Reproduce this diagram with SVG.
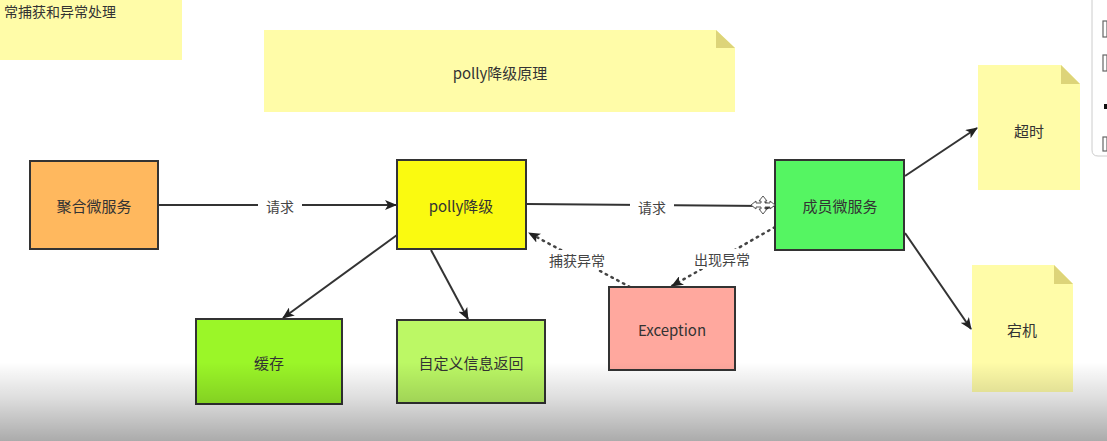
<svg xmlns="http://www.w3.org/2000/svg" width="1107" height="441" viewBox="0 0 1107 441">
<defs>
<style>
.t{font-family:"Noto Sans CJK SC","Noto Sans",sans-serif;font-size:15px;fill:#333;text-anchor:middle;dominant-baseline:central}
.lbl{font-family:"Noto Sans CJK SC","Noto Sans",sans-serif;font-size:14px;fill:#444;text-anchor:middle;dominant-baseline:central}
.box{stroke:#333;stroke-width:2}
.note{fill:#FFFCA8}
.fold{fill:#DDD479}
.c{stroke:#333;stroke-width:2;fill:none}
.d{stroke:#444;stroke-width:2.5;fill:none;stroke-dasharray:1.5 5;stroke-linecap:round}
</style>
<marker id="a" viewBox="0 0 12 10" refX="11" refY="5" markerWidth="12" markerHeight="10" markerUnits="userSpaceOnUse" orient="auto">
<path d="M0,0 L12,5 L0,10 L3,5 Z" fill="#222"/>
</marker>
<linearGradient id="g" x1="0" y1="0" x2="0" y2="1">
<stop offset="0" stop-color="#000" stop-opacity="0"/>
<stop offset="0.45" stop-color="#000" stop-opacity="0.13"/>
<stop offset="1" stop-color="#000" stop-opacity="0.33"/>
</linearGradient>
</defs>
<rect width="1107" height="441" fill="#ffffff"/>

<g id="note-topleft">
<rect x="0" y="0" width="182" height="60" class="note"/>
<text x="4" y="11" class="t" style="font-size:14px;text-anchor:start">常捕获和异常处理</text>
</g>

<g id="note-title">
<path d="M264,30 H716 L735,48 V112 H264 Z" class="note"/>
<path d="M716,30 L735,48 H716 Z" class="fold"/>
<text x="500" y="72" class="t">polly降级原理</text>
</g>

<g id="connectors">
<line x1="159" y1="205" x2="396" y2="205" class="c" marker-end="url(#a)"/>
<line x1="527" y1="204" x2="774" y2="206" class="c" marker-end="url(#a)"/>
<line x1="397" y1="235" x2="283" y2="318" class="c" marker-end="url(#a)"/>
<line x1="431" y1="250" x2="468" y2="319" class="c" marker-end="url(#a)"/>
<line x1="905" y1="176" x2="977" y2="128" class="c" marker-end="url(#a)"/>
<line x1="905" y1="233" x2="971" y2="329" class="c" marker-end="url(#a)"/>
<line x1="630" y1="287" x2="529" y2="233" class="d" marker-end="url(#a)"/>
<line x1="775" y1="227" x2="672" y2="286" class="d" marker-end="url(#a)"/>
<rect x="258" y="197" width="44" height="18" fill="#fff"/>
<text x="280" y="206" class="lbl">请求</text>
<rect x="630" y="197" width="44" height="18" fill="#fff"/>
<text x="652" y="207" class="lbl">请求</text>
<rect x="545" y="250" width="64" height="20" fill="#fff"/>
<text x="577" y="260" class="lbl">捕获异常</text>
<rect x="690" y="249" width="64" height="20" fill="#fff"/>
<text x="722" y="259" class="lbl">出现异常</text>
</g>

<g id="node-jh">
<rect x="30" y="161" width="128" height="88" class="box" fill="#FFB85E"/>
<text x="94" y="205" class="t">聚合微服务</text>
</g>
<g id="node-polly">
<rect x="397" y="160" width="129" height="89" class="box" fill="#FAFA10"/>
<text x="461" y="205" class="t">polly降级</text>
</g>
<g id="node-member">
<rect x="775" y="160" width="129" height="90" class="box" fill="#55F562"/>
<text x="840" y="205" class="t">成员微服务</text>
</g>
<g id="node-cache">
<rect x="196" y="319" width="146" height="85" class="box" fill="#9BF628"/>
<text x="269" y="362" class="t">缓存</text>
</g>
<g id="node-custom">
<rect x="397" y="320" width="148" height="83" class="box" fill="#BCF865"/>
<text x="471" y="362" class="t">自定义信息返回</text>
</g>
<g id="node-exception">
<rect x="609" y="287" width="126" height="83" class="box" fill="#FFA89E"/>
<text x="672" y="329" class="t">Exception</text>
</g>
<g id="note-timeout">
<path d="M978,65 H1061 L1080,84 V190 H978 Z" class="note"/>
<path d="M1061,65 L1080,84 H1061 Z" class="fold"/>
<text x="1029" y="130" class="t">超时</text>
</g>
<g id="note-down">
<path d="M972,265 H1054 L1073,284 V392 H972 Z" class="note"/>
<path d="M1054,265 L1073,284 H1054 Z" class="fold"/>
<text x="1022" y="329" class="t">宕机</text>
</g>

<g id="move-icon" fill="#fff" stroke="#555" stroke-width="1">
<path d="M763,196 L767,201 H765 V203 H770 V201 L775,205 L770,209 V207 H765 V209 H767 L763,214 L759,209 H761 V207 H756 V209 L751,205 L756,201 V203 H761 V201 H759 Z"/>
</g>

<g id="side-panel">
<path d="M1092,0 V150 Q1092,156 1098,156 H1107" fill="#fff" stroke="#ccc" stroke-width="1"/>
<rect x="1103" y="21" width="4" height="16" fill="#fff" stroke="#666" stroke-width="1.2"/>
<rect x="1103" y="55" width="4" height="16" fill="#fff" stroke="#666" stroke-width="1.2"/>
<rect x="1104" y="104" width="3" height="5" fill="#111"/>
<rect x="1103" y="137" width="4" height="14" fill="#fff" stroke="#666" stroke-width="1.2"/>
</g>

<rect x="0" y="362" width="1107" height="79" fill="url(#g)"/>
</svg>
